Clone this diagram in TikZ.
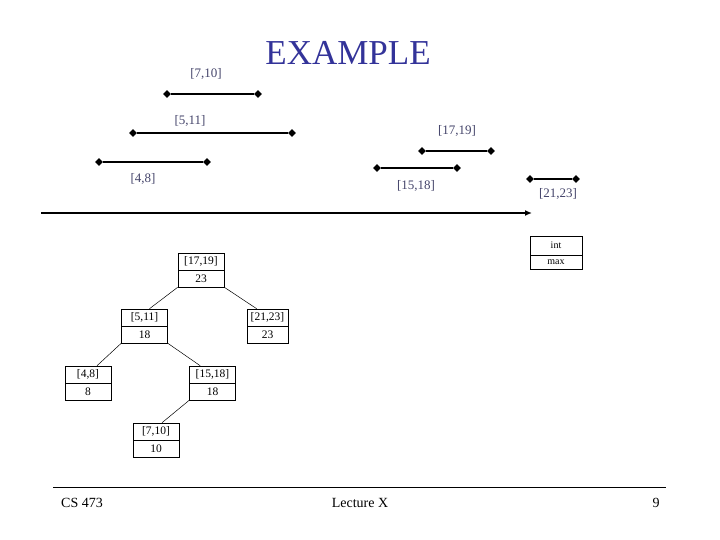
\documentclass[tikz,border=0pt]{standalone}
\usepackage{fontspec}
\setmainfont{Liberation Serif}
\usetikzlibrary{shapes.geometric,shapes.multipart,calc,arrows.meta}
\definecolor{titleblue}{HTML}{333399}
\definecolor{labelgray}{HTML}{44446A}
\tikzset{
  endpt/.style={shape=diamond,fill=black,inner sep=0pt,minimum size=8pt},
  seg/.style={line width=1.7pt},
  ilabel/.style={text=labelgray,font=\fontsize{13}{15}\selectfont,inner sep=0pt},
  tbox/.style={draw,line width=0.6pt,rectangle split,rectangle split parts=2,
    minimum width=46pt,inner xsep=2pt,inner ysep=4pt,text height=7pt,text depth=2pt,
    font=\fontsize{11.5}{12}\selectfont},
  edge/.style={line width=0.5pt},
  foot/.style={font=\fontsize{14}{16}\selectfont,inner sep=0pt}
}
\begin{document}
\begin{tikzpicture}[x=1pt,y=-1pt]
\useasboundingbox (0,0) rectangle (720,540);
% title
\node[text=titleblue,font=\fontsize{35}{40}\selectfont,inner sep=0pt] (title) at (348,53) {EXAMPLE};
% intervals
\node[endpt] (a1) at (167,94) {}; \node[endpt] (a2) at (258,94) {};
\draw[seg] (a1) -- (a2);
\node[ilabel] (la) at (206,74) {[7,10]};
\node[endpt] (b1) at (133,133) {}; \node[endpt] (b2) at (292,133) {};
\draw[seg] (b1) -- (b2);
\node[ilabel] (lb) at (190,121) {[5,11]};
\node[endpt] (c1) at (99,162) {}; \node[endpt] (c2) at (207,162) {};
\draw[seg] (c1) -- (c2);
\node[ilabel] (lc) at (143,179) {[4,8]};
\node[endpt] (d1) at (422,151) {}; \node[endpt] (d2) at (491,151) {};
\draw[seg] (d1) -- (d2);
\node[ilabel] (ld) at (457,131) {[17,19]};
\node[endpt] (e1) at (377,168) {}; \node[endpt] (e2) at (457,168) {};
\draw[seg] (e1) -- (e2);
\node[ilabel] (le) at (416,186) {[15,18]};
\node[endpt] (f1) at (530,179) {}; \node[endpt] (f2) at (576,179) {};
\draw[seg] (f1) -- (f2);
\node[ilabel] (lf) at (558,194) {[21,23]};
% axis
\coordinate (ax1) at (41,213);
\coordinate (ax2) at (532,213);
\draw[seg,-{Latex[length=7pt,width=6pt]}] (ax1) -- (ax2);
% legend box
\node[tbox,minimum width=52pt,font=\fontsize{10}{11}\selectfont,inner ysep=4.5pt] (leg) at (556,253) {int\nodepart{two}max};
% tree
\node[tbox] (t1) at (201,270) {[17,19]\nodepart{two}23};
\node[tbox] (t2) at (144.5,326) {[5,11]\nodepart{two}18};
\node[tbox,minimum width=41pt] (t3) at (267.5,326) {[21,23]\nodepart{two}23};
\node[tbox] (t4) at (88,383) {[4,8]\nodepart{two}8};
\node[tbox] (t5) at (212.5,383) {[15,18]\nodepart{two}18};
\node[tbox] (t6) at (156,440) {[7,10]\nodepart{two}10};
\draw[edge] (t1.south west) -- ($(t2.north)+(5,0)$);
\draw[edge] (t1.south east) -- ($(t3.north west)+(10,0)$);
\draw[edge] (t2.south west) -- ($(t4.north)+(9,0)$);
\draw[edge] (t2.south east) -- ($(t5.north west)+(11,0)$);
\draw[edge] (t5.south west) -- ($(t6.north)+(6,0)$);
% footer
\coordinate (fl1) at (53,487);
\coordinate (fl2) at (666,487);
\draw[line width=0.8pt] (fl1) -- (fl2);
\node[foot] (cs) at (82,503) {CS 473};
\node[foot] (lec) at (360,503) {Lecture X};
\node[foot] (pg) at (656,503) {9};
\end{tikzpicture}
\end{document}
